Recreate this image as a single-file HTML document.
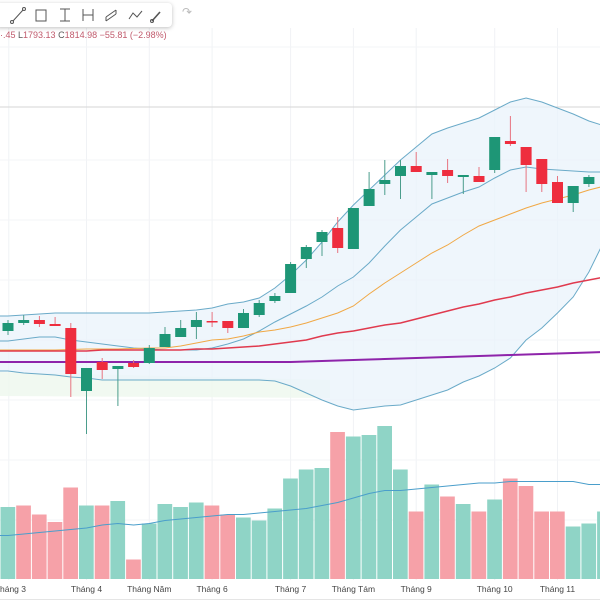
<!DOCTYPE html>
<html><head><meta charset="utf-8"><style>
html,body{margin:0;padding:0;background:#fff;width:600px;height:600px;overflow:hidden;font-family:"Liberation Sans","DejaVu Sans",sans-serif}
#toolbar{position:absolute;left:-4px;top:3px;width:176px;height:24px;background:#fff;border-radius:4px;box-shadow:0 1px 4px rgba(0,0,0,.25)}
#legend{position:absolute;left:0;top:30px;font-size:9px;color:#c05a6c;white-space:nowrap}
</style></head><body>
<svg id="chart" width="600" height="600" style="position:absolute;left:0;top:0"></svg>
<div id="toolbar">
<svg width="176" height="24" style="position:absolute;left:0;top:0" stroke="#555" fill="none" stroke-width="1">
<g><line x1="17" y1="18" x2="27" y2="7"/><circle cx="16" cy="19" r="1.5"/><circle cx="28" cy="6" r="1.5"/></g>
<g><rect x="40" y="7" width="10" height="11"/></g>
<g><line x1="64" y1="6" x2="74" y2="6"/><line x1="69" y1="6" x2="69" y2="18"/><line x1="64" y1="18" x2="74" y2="18"/></g>
<g><line x1="87" y1="6" x2="87" y2="18"/><line x1="87" y1="12" x2="97" y2="12"/><line x1="97" y1="6" x2="97" y2="18"/></g>
<g><path d="M110 14 L120 7 M110 18 L120 11 M110 14 L110 18 M120 7 L120 11"/></g>
<g><path d="M133 16 L137 10 L141 14 L146 8"/></g>
<g><path d="M156 18 L164 9" stroke-width="1.6"/><circle cx="156" cy="18" r="1.5"/></g>
</svg></div>
<div style="position:absolute;left:182px;top:5px;font-size:12px;color:#bbb">↷</div>
<div id="legend">·.45 <span style="color:#555">L</span>1793.13 <span style="color:#555">C</span>1814.98 −55.81 (−2.98%)</div>
<script>
// price units: p = 2200 - 2*y
const opens  = [1538,1554,1560,1552,1544,1418,1476,1462,1474,1474,1506,1526,1546,1558,1558,1544,1570,1598,1614,1682,1716,1744,1702,1788,1832,1848,1868,1850,1860,1846,1848,1860,1918,1906,1882,1836,1794,1832];
const closes = [1554,1560,1552,1548,1452,1464,1460,1468,1466,1504,1532,1544,1560,1556,1544,1574,1594,1608,1672,1706,1736,1704,1784,1822,1840,1868,1856,1856,1848,1850,1836,1926,1912,1870,1832,1794,1828,1846];
const highs  = [1560,1570,1568,1566,1554,1464,1484,1468,1480,1510,1546,1560,1576,1576,1558,1582,1600,1614,1676,1710,1740,1766,1784,1856,1880,1880,1896,1856,1882,1850,1866,1926,1968,1906,1882,1848,1828,1850];
const lows   = [1530,1550,1546,1548,1406,1332,1442,1388,1464,1472,1506,1526,1522,1546,1534,1544,1566,1594,1614,1664,1688,1694,1702,1788,1810,1802,1856,1802,1834,1812,1836,1854,1908,1816,1816,1794,1776,1826];
const volumes = [48,49,43,38,61,49,49,52,13,37,50,48,51,49,43,41,39,47,67,73,74,98,95,96,102,73,45,63,55,50,45,53,67,62,45,45,35,37,45];
const volUp = [1,0,0,0,0,1,0,1,0,1,1,1,1,0,0,1,1,1,1,1,1,0,1,1,1,1,0,1,0,1,0,1,0,0,0,0,1,1,1];
const bbUpper = [1568,1570,1572,1574,1574,1574,1574,1574,1574,1574,1576,1578,1580,1584,1592,1596,1604,1624,1650,1680,1716,1756,1790,1820,1850,1880,1906,1932,1944,1954,1964,1980,1996,2004,1996,1984,1972,1958,1948];
const bbMid = [1518,1522,1526,1526,1520,1516,1512,1508,1504,1502,1500,1500,1500,1504,1512,1522,1538,1556,1572,1588,1606,1628,1646,1674,1708,1740,1766,1792,1804,1816,1826,1844,1860,1866,1862,1860,1858,1856,1856];
const bbLower = [1458,1454,1452,1450,1446,1444,1440,1440,1440,1440,1440,1440,1440,1440,1440,1440,1440,1438,1428,1414,1400,1388,1380,1384,1388,1390,1400,1410,1420,1436,1448,1464,1484,1520,1544,1574,1606,1656,1720];
const maOrange = [1500,1500,1500,1500,1501,1502,1502,1502,1503,1504,1504,1508,1514,1520,1522,1528,1536,1540,1546,1554,1564,1574,1588,1612,1634,1654,1674,1694,1710,1730,1748,1760,1772,1784,1794,1802,1810,1820,1828];
const maRed = [1498,1498,1498,1498,1498,1498,1500,1500,1500,1500,1500,1500,1502,1502,1504,1506,1508,1512,1516,1520,1528,1534,1538,1544,1550,1554,1562,1570,1578,1586,1592,1600,1606,1614,1620,1626,1634,1640,1646];
const maPurple = [1476,1476,1476,1476,1476,1476,1476,1476,1476,1476,1476,1476,1476,1476,1476,1476,1476,1476,1476,1477,1478,1479,1480,1481,1482,1483,1484,1485,1486,1487,1488,1489,1490,1491,1492,1493,1494,1495,1496];
const volMA = [29,30,31,32,33,34,36,37,36,37,39,40,41,42,43,43,44,45,46,47,49,51,54,57,59,59,60,61,62,63,64,64,65,65,65,65,65,63,63];
const monthLabels = ["háng 3","Tháng 4","Tháng Năm","Tháng 6","Tháng 7","Tháng Tám","Tháng 9","Tháng 10","Tháng 11","T"];
const monthIdx = [0.05,5,9,13,18,22,26,31,35,38.8];

const svg = document.getElementById('chart');
const NS='http://www.w3.org/2000/svg';
const step=15.7;
const xOf=i=>8+i*step;
const yP=p=>(2200-p)/2;
const yV=v=>579-v*1.5;
function mk(tag,attrs,parent){const e=document.createElementNS(NS,tag);for(const k in attrs)e.setAttribute(k,attrs[k]);(parent||svg).appendChild(e);return e;}
for(let k=0;k<monthIdx.length-1;k++){const g=mk('line',{x1:xOf(monthIdx[k]),x2:xOf(monthIdx[k]),y1:28,y2:580,stroke:'#f0f2f5'});

}
[47,160,220,280,340,400,460,520].forEach(y=>{const g=mk('line',{x1:0,x2:600,y1:y,y2:y,stroke:'#f3f4f7'});

});
const pl=mk('line',{x1:0,x2:600,y1:107,y2:107,stroke:'#d6d6d6'});


const cl=mk('polygon',{points:'0,372 330,380 330,398 0,396',fill:'#eef7ee',opacity:0.8});


function ptsOf(arr,yf){const p=arr.map((v,i)=>xOf(i)+','+yf(v));p.unshift('0,'+yf(arr[0]));return p;}
let pts=ptsOf(bbUpper,yP);
const low=ptsOf(bbLower,yP).reverse();
pts=pts.concat(low);
const bf=mk('polygon',{points:pts.join(' '),fill:'#e9f3fb',opacity:0.75});


function line(arr,color,w,name,yf){const e=mk('polyline',{points:ptsOf(arr,yf).join(' '),fill:'none',stroke:color,'stroke-width':w});

}
volumes.forEach((v,i)=>{const r=mk('rect',{x:i*step+0.5,y:yV(v),width:step-1,height:579-yV(v),fill:volUp[i]?'#8fd4c6':'#f6a1a8'});

});
line(volMA,'#4a9ecb',1,'volume-ma-line',yV);
line(bbUpper,'#6aaac8',1,'bollinger-upper',yP);
line(bbMid,'#6aaac8',1,'bollinger-middle',yP);
line(bbLower,'#6aaac8',1,'bollinger-lower',yP);
line(maOrange,'#f0a845',1,'ma-orange',yP);
line(maRed,'#e03a4e',1.5,'ma-red',yP);
line(maPurple,'#8e24aa',2,'ma-purple',yP);
opens.forEach((o,i)=>{const c=closes[i],up=c>=o,col=up?'#1e9676':'#ee2d3e',x=xOf(i);
const w=mk('line',{x1:x,x2:x,y1:yP(highs[i]),y2:yP(lows[i]),stroke:up?'#4b9d8c':'#e77480','stroke-width':1});


const t=yP(Math.max(o,c)),b=yP(Math.min(o,c));
const r=mk('rect',{x:x-5.5,y:t,width:11,height:Math.max(1.5,b-t),fill:col});

});
const ax=mk('line',{x1:0,x2:600,y1:599.5,y2:599.5,stroke:'#e5e5e5'});


monthLabels.forEach((l,k)=>{const t=mk('text',{x:k==0?0:xOf(monthIdx[k]),y:592,'font-size':8.5,fill:'#444','text-anchor':k==0?'start':'middle'});t.textContent=l;

});
</script>
</body></html>
